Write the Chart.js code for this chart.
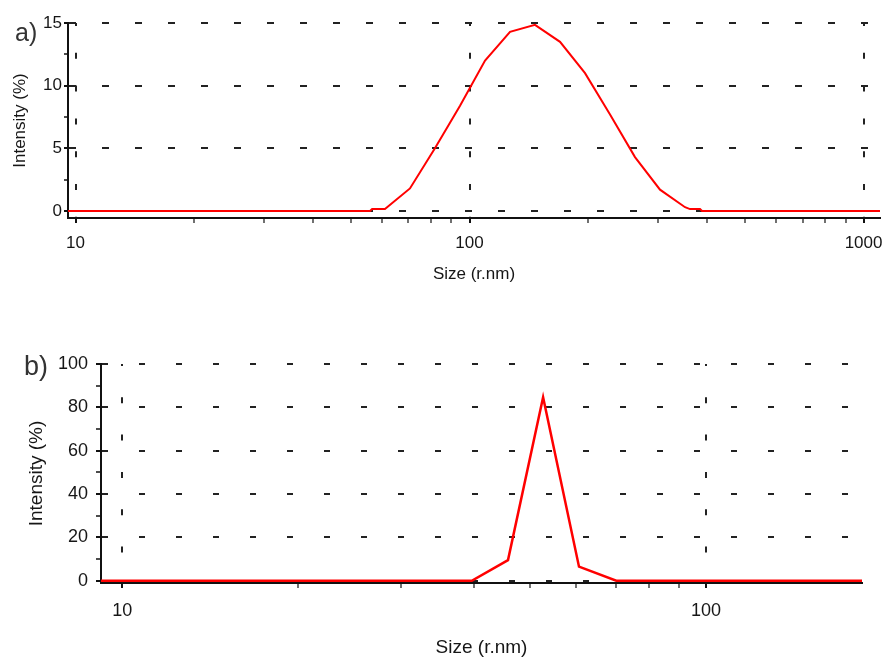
<!DOCTYPE html>
<html>
<head>
<meta charset="utf-8">
<script src="https://cdn.jsdelivr.net/npm/chart.js@4"></script>
<style>
  body { margin: 0; background: #fff; width: 886px; height: 657px; position: relative; overflow: hidden;
         font-family: "Liberation Sans", Arial, sans-serif; }
  .panel { position: absolute; left: 0; width: 886px; }
  .tag { position: absolute; color: #333; line-height: 1; z-index: 2; }
</style>
</head>
<body>
<div class="panel" style="top:0; height:295px;"><canvas id="chartA" width="886" height="295"></canvas></div>
<div class="panel" style="top:330px; height:327px;"><canvas id="chartB" width="886" height="327"></canvas></div>
<div class="tag" style="left:15px; top:20px; font-size:25px;">a)</div>
<div class="tag" style="left:24px; top:353px; font-size:27px;">b)</div>
<script>
// panel a) - size distribution by intensity
const sizesA = [9.5, 55.9, 56.6, 61.0, 70.6, 81.7, 94.6, 109.5, 126.7, 146.6, 169.7, 196.4,
                227.3, 263.0, 304.4, 352.4, 362.7, 384.6, 389.2, 1110];
const intensityA = [0, 0, 0.15, 0.15, 1.8, 5.0, 8.4, 12.0, 14.3, 14.85, 13.5, 11.0,
                    7.7, 4.3, 1.7, 0.3, 0.15, 0.15, 0, 0];
const xTicksA = [10, 20, 30, 40, 50, 60, 70, 80, 90, 100, 200, 300, 400, 500, 600, 700, 800, 900, 1000];
const xLabelsA = [10, 100, 1000];
const yTicksA = [0, 2.5, 5, 7.5, 10, 12.5, 15];
const yLabelsA = [0, 5, 10, 15];

// panel b)
const sizesB = [9.0, 39.7, 45.8, 52.6, 60.6, 70.2, 190];
const intensityB = [0, 0, 9.5, 84.7, 6.5, 0, 0];
const xTicksB = [10, 20, 30, 40, 50, 60, 70, 80, 90, 100];
const xLabelsB = [10, 100];
const yTicksB = [0, 10, 20, 30, 40, 50, 60, 70, 80, 90, 100];
const yLabelsB = [0, 20, 40, 60, 80, 100];

const FONT = '"Liberation Sans", Arial, sans-serif';
const INK = '#161616';

function buildChart(id, o) {
    const majorX = v => o.xLabels.includes(v);
    const majorY = v => o.yLabels.includes(v);
    return new Chart(document.getElementById(id), {
        type: 'line',
        data: {
            datasets: [{
                data: o.sizes.map((s, i) => ({ x: s, y: o.values[i] })),
                borderColor: '#ff0000',
                borderWidth: o.lineWidth,
                pointRadius: 0,
                tension: 0,
                fill: false
            }]
        },
        options: {
            responsive: false,
            animation: false,
            events: [],
            layout: { padding: o.padding },
            plugins: { legend: { display: false }, tooltip: { enabled: false } },
            scales: {
                x: {
                    type: 'logarithmic',
                    min: o.xMin,
                    max: o.xMax,
                    bounds: 'data',
                    afterBuildTicks: s => { s.ticks = o.xTicks.map(v => ({ value: v })); },
                    // fixed axis height, and no extra room reserved for the end labels
                    afterFit: s => { s.height = o.xHeight; s.paddingLeft = 0; s.paddingRight = 0; },
                    ticks: {
                        autoSkip: false, maxRotation: 0, minRotation: 0,
                        padding: o.xPad, color: INK,
                        font: { family: FONT, size: o.tickSize },
                        callback: v => majorX(v) ? String(v) : ''
                    },
                    grid: {
                        color: c => (c.tick && majorX(c.tick.value)) ? '#222' : 'rgba(0,0,0,0)',
                        lineWidth: 2,
                        tickLength: 5,
                        tickColor: '#111',
                        tickWidth: c => (c.tick && majorX(c.tick.value)) ? 2 : 1.2
                    },
                    border: { color: '#111', width: 2, dash: o.xDash, dashOffset: o.xDashOffset },
                    title: {
                        display: true, text: 'Size (r.nm)', color: INK,
                        font: { family: FONT, size: o.titleSize, lineHeight: o.titleLH },
                        padding: { top: 0, bottom: o.xTitlePad }
                    }
                },
                y: {
                    min: o.yMin,
                    max: o.yMax,
                    bounds: 'data',
                    afterBuildTicks: s => { s.ticks = o.yTicks.map(v => ({ value: v })); },
                    afterFit: s => { s.width = o.yWidth; s.paddingTop = 0; s.paddingBottom = 0; },
                    ticks: {
                        autoSkip: false, padding: o.yPad, color: INK,
                        font: { family: FONT, size: o.tickSize },
                        callback: v => majorY(v) ? String(v) : ''
                    },
                    grid: {
                        color: c => (c.tick && majorY(c.tick.value)) ? '#222' : 'rgba(0,0,0,0)',
                        lineWidth: 2,
                        tickLength: o.yTick,
                        tickColor: '#111',
                        tickWidth: c => (c.tick && majorY(c.tick.value)) ? 2 : 1.5
                    },
                    border: { color: '#111', width: 2, dash: o.yDash, dashOffset: 0 },
                    title: {
                        display: true, text: 'Intensity (%)', color: INK,
                        font: { family: FONT, size: o.titleSize },
                        padding: { top: o.yTitlePad, bottom: 0 }
                    }
                }
            }
        }
    });
}

buildChart('chartA', {
    sizes: sizesA, values: intensityA, lineWidth: 2,
    xTicks: xTicksA, xLabels: xLabelsA, yTicks: yTicksA, yLabels: yLabelsA,
    xMin: 9.57, xMax: 1101, yMin: -0.56, yMax: 15,
    padding: { top: 23, right: 6, left: 0, bottom: 0 },
    xHeight: 77, yWidth: 68,
    tickSize: 17, titleSize: 17, titleLH: 1.2,
    xPad: 10, yPad: 2, yTick: 4,
    xTitlePad: 10, yTitlePad: 10,
    xDash: [6, 26.8], xDashOffset: 3, yDash: [7, 26]
});

buildChart('chartB', {
    sizes: sizesB, values: intensityB, lineWidth: 2.5,
    xTicks: xTicksB, xLabels: xLabelsB, yTicks: yTicksB, yLabels: yLabelsB,
    xMin: 9.2, xMax: 185, yMin: -1.05, yMax: 100,
    padding: { top: 34, right: 24, left: 0, bottom: 0 },
    xHeight: 74, yWidth: 101,
    tickSize: 18, titleSize: 19, titleLH: 1,
    xPad: 12, yPad: 8, yTick: 5,
    xTitlePad: 0, yTitlePad: 25,
    xDash: [6, 31.3], xDashOffset: 4, yDash: [6, 31]
});
</script>
</body>
</html>
